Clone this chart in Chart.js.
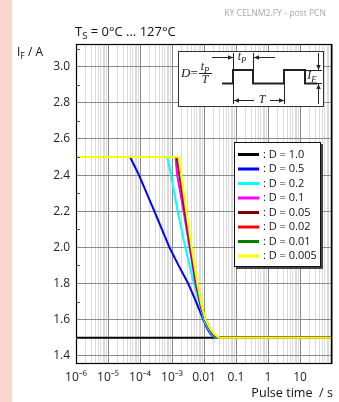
<!DOCTYPE html>
<html>
<head>
<meta charset="utf-8">
<script src="https://cdn.jsdelivr.net/npm/chart.js@4/dist/chart.umd.min.js"></script>
<style>
  html, body { margin: 0; padding: 0; background: #fff; }
  #wrap { width: 339px; height: 402px; position: relative; }
</style>
</head>
<body>
<div id="wrap"><canvas id="c"></canvas></div>
<script>
// Pulse time (s) and permissible forward current I_F (A) for each duty cycle D
const tD1000 = [1e-6, 100];
const iD1000 = [1.5, 1.5];

const tD0500 = [1e-6, 4.9e-5, 9.3e-5, 2.8e-4, 8.3e-4, 1.6e-3, 3.2e-3, 5.6e-3, 9.5e-3, 1.26e-2, 1.6e-2, 2.0e-2, 2.5e-2, 100];
const iD0500 = [2.5, 2.5, 2.4, 2.2, 2.0, 1.9, 1.8, 1.7, 1.6, 1.55, 1.52, 1.505, 1.5, 1.5];

const tD0200 = [1e-6, 7.1e-4, 9.3e-4, 1.5e-3, 2.6e-3, 4.8e-3, 7.0e-3, 1.0e-2, 1.35e-2, 1.8e-2, 2.4e-2, 100];
const iD0200 = [2.5, 2.5, 2.4, 2.2, 2.0, 1.8, 1.7, 1.6, 1.55, 1.515, 1.5, 1.5];

const tD0100 = [1e-6, 1.29e-3, 1.45e-3, 2.3e-3, 3.55e-3, 5.4e-3, 7.6e-3, 1.1e-2, 1.45e-2, 1.95e-2, 2.6e-2, 100];
const iD0100 = [2.5, 2.5, 2.4, 2.2, 2.0, 1.8, 1.7, 1.6, 1.55, 1.515, 1.5, 1.5];

const tD0050 = [1e-6, 1.41e-3, 2.5e-3, 3.75e-3, 5.7e-3, 8.0e-3, 1.08e-2, 1.48e-2, 2.0e-2, 2.7e-2, 100];
const iD0050 = [2.5, 2.5, 2.2, 2.0, 1.8, 1.67, 1.6, 1.55, 1.515, 1.5, 1.5];

const tD0020 = [1e-6, 1.48e-3, 2.6e-3, 3.85e-3, 5.9e-3, 8.2e-3, 1.1e-2, 1.5e-2, 2.02e-2, 2.75e-2, 100];
const iD0020 = [2.5, 2.5, 2.2, 2.0, 1.8, 1.67, 1.6, 1.55, 1.515, 1.5, 1.5];

const tD0010 = [1e-6, 1.55e-3, 2.7e-3, 3.95e-3, 6.05e-3, 8.4e-3, 1.11e-2, 1.52e-2, 2.05e-2, 2.8e-2, 100];
const iD0010 = [2.5, 2.5, 2.2, 2.0, 1.8, 1.67, 1.6, 1.55, 1.515, 1.5, 1.5];

const tD0005 = [1e-6, 1.62e-3, 2.8e-3, 4.1e-3, 6.2e-3, 8.6e-3, 1.12e-2, 1.55e-2, 2.1e-2, 2.9e-2, 100];
const iD0005 = [2.5, 2.5, 2.2, 2.0, 1.8, 1.67, 1.6, 1.55, 1.52, 1.5, 1.5];

const seriesLabels = [': D = 1.0', ': D = 0.5', ': D = 0.2', ': D = 0.1', ': D = 0.05', ': D = 0.02', ': D = 0.01', ': D = 0.005'];
const seriesColors = ['#000000', '#0000ff', '#00ffff', '#ff00ff', '#800000', '#ff0000', '#008000', '#ffff00'];

// Axis ticks
const xDecades = [1e-6, 1e-5, 1e-4, 1e-3, 1e-2, 1e-1, 1, 10, 100];
const xTickLabels = ['10\u207B\u2076', '10\u207B\u2075', '10\u207B\u2074', '10\u207B\u00B3', '0.01', '0.1', '1', '10', ''];
const yTickLabels = ['1.4', '1.6', '1.8', '2.0', '2.2', '2.4', '2.6', '2.8', '3.0'];

const FONT = '"Open Sans", "Noto Sans", sans-serif';

function pts(t, i) { return t.map((v, k) => ({ x: v, y: i[k] })); }
const seriesData = [
  pts(tD1000, iD1000), pts(tD0500, iD0500), pts(tD0200, iD0200), pts(tD0100, iD0100),
  pts(tD0050, iD0050), pts(tD0020, iD0020), pts(tD0010, iD0010), pts(tD0005, iD0005)
];

// all 1..9 x 10^k positions for the log grid
const xGridValues = [];
for (let k = -6; k <= 1; k++) {
  for (let m = 1; m <= 9; m++) xGridValues.push(+(m * Math.pow(10, k)).toPrecision(3));
}
xGridValues.push(100);

const yGridValues = [];
for (let k = 14; k <= 31; k++) yGridValues.push(k / 10);

function isDecade(v) {
  const l = Math.log10(v);
  return Math.abs(l - Math.round(l)) < 1e-6;
}
function isMajorY(v) { return Math.round(v * 10) % 2 === 0; }

function drawRich(ctx, parts, x, y, size, align) {
  // parts: [{t, sub}] ; draws left to right with subscripts
  let w = 0;
  parts.forEach(p => {
    ctx.font = (p.style ? p.style + ' ' : '') + (p.sub ? size * 0.72 : size) + 'px ' + (p.family || FONT);
    w += ctx.measureText(p.t).width;
  });
  let cx = align === 'center' ? x - w / 2 : (align === 'right' ? x - w : x);
  parts.forEach(p => {
    const fam = p.family || FONT;
    ctx.font = (p.style ? p.style + ' ' : '') + (p.sub ? size * 0.72 : size) + 'px ' + fam;
    ctx.fillText(p.t, cx, p.sub ? y + size * 0.3 : y);
    cx += ctx.measureText(p.t).width;
  });
}

function arrow(ctx, x1, y1, x2, y2) {
  ctx.beginPath(); ctx.moveTo(x1, y1); ctx.lineTo(x2, y2); ctx.stroke();
  const a = Math.atan2(y2 - y1, x2 - x1), L = 5, W = 2.2;
  ctx.beginPath();
  ctx.moveTo(x2, y2);
  ctx.lineTo(x2 - L * Math.cos(a) + W * Math.sin(a), y2 - L * Math.sin(a) - W * Math.cos(a));
  ctx.lineTo(x2 - L * Math.cos(a) - W * Math.sin(a), y2 - L * Math.sin(a) + W * Math.cos(a));
  ctx.closePath(); ctx.fill();
}

const decor = {
  id: 'decor',
  beforeDraw(chart) {
    const ctx = chart.ctx;
    ctx.save();
    ctx.fillStyle = '#ffffff';
    ctx.fillRect(0, 0, chart.width, chart.height);
    ctx.fillStyle = '#fdd5cf';
    ctx.fillRect(0, 0, 12, chart.height);
    ctx.restore();
  },
  afterDraw(chart) {
    const ctx = chart.ctx;
    const ca = chart.chartArea;
    const ys = chart.scales.y;
    ctx.save();

    // frame around the plot
    ctx.strokeStyle = '#000';
    ctx.lineWidth = 1.2;
    ctx.strokeRect(ca.left + 0.5, ca.top + 0.5, ca.right - ca.left - 1, ca.bottom - ca.top - 1);

    // short inner ticks at the odd tenths
    ctx.lineWidth = 1;
    ctx.strokeStyle = '#555';
    yGridValues.forEach(v => {
      if (!isMajorY(v)) {
        const py = Math.round(ys.getPixelForValue(v)) + 0.5;
        ctx.beginPath(); ctx.moveTo(ca.left, py); ctx.lineTo(ca.left + 4, py); ctx.stroke();
      }
    });

    // pulse diagram inset
    ctx.fillStyle = '#fff';
    ctx.fillRect(178.5, 51.5, 145, 55);
    ctx.strokeStyle = '#333';
    ctx.lineWidth = 1;
    ctx.strokeRect(178.5, 51.5, 145, 55);

    ctx.fillStyle = '#222';
    ctx.strokeStyle = '#222';
    ctx.textBaseline = 'middle';
    ctx.textAlign = 'left';
    const SERIF = '"Liberation Serif", "DejaVu Serif", serif';
    drawRich(ctx, [{ t: 'D', style: 'italic', family: SERIF }, { t: '=', family: SERIF }], 181, 74, 13, 'left');
    drawRich(ctx, [{ t: 't', style: 'italic', family: SERIF }, { t: 'P', sub: true, style: 'italic', family: SERIF }], 205, 67, 12, 'center');
    ctx.lineWidth = 1;
    ctx.beginPath(); ctx.moveTo(199, 73.5); ctx.lineTo(212, 73.5); ctx.stroke();
    drawRich(ctx, [{ t: 'T', style: 'italic', family: SERIF }], 205, 80, 12, 'center');

    // waveform
    ctx.lineWidth = 2;
    ctx.beginPath();
    ctx.moveTo(222, 83.5); ctx.lineTo(233, 83.5); ctx.lineTo(233, 70); ctx.lineTo(253, 70);
    ctx.lineTo(253, 83.5); ctx.lineTo(284, 83.5); ctx.lineTo(284, 70); ctx.lineTo(305, 70);
    ctx.lineTo(305, 83.5); ctx.lineTo(317, 83.5);
    ctx.stroke();

    ctx.lineWidth = 1;
    // extension lines
    ctx.beginPath();
    ctx.moveTo(233.5, 53); ctx.lineTo(233.5, 70);
    ctx.moveTo(253.5, 53); ctx.lineTo(253.5, 70);
    ctx.moveTo(233.5, 84); ctx.lineTo(233.5, 104);
    ctx.moveTo(284.5, 84); ctx.lineTo(284.5, 104);
    ctx.moveTo(305, 70.5); ctx.lineTo(322, 70.5);
    ctx.moveTo(317, 83.5); ctx.lineTo(322, 83.5);
    ctx.stroke();
    // t_P dimension
    arrow(ctx, 212, 57.5, 233, 57.5);
    arrow(ctx, 275, 57.5, 254, 57.5);
    drawRich(ctx, [{ t: 't', style: 'italic', family: SERIF }, { t: 'P', sub: true, style: 'italic', family: SERIF }], 242, 57, 12, 'center');
    // T dimension
    arrow(ctx, 254, 100.5, 234, 100.5);
    arrow(ctx, 270, 100.5, 284, 100.5);
    drawRich(ctx, [{ t: 'T', style: 'italic', family: SERIF }], 262, 100, 12, 'center');
    // I_F dimension
    arrow(ctx, 318.5, 53, 318.5, 70);
    arrow(ctx, 318.5, 104, 318.5, 84);
    drawRich(ctx, [{ t: 'I', style: 'italic', family: SERIF }, { t: 'F', sub: true, style: 'italic', family: SERIF }], 312, 76, 12, 'center');

    // legend
    const lx = 234, ly = 142, lw = 87, lh = 125;
    ctx.fillStyle = '#444';
    ctx.fillRect(lx + 2, ly + 2, lw, lh);
    ctx.fillStyle = '#fff';
    ctx.fillRect(lx, ly, lw, lh);
    ctx.strokeStyle = '#111';
    ctx.lineWidth = 1;
    ctx.strokeRect(lx + 0.5, ly + 0.5, lw - 1, lh - 1);
    ctx.font = '11px ' + FONT;
    ctx.textBaseline = 'middle';
    seriesLabels.forEach((lab, k) => {
      const yy = 154.5 + k * 14.5;
      ctx.strokeStyle = seriesColors[k];
      ctx.lineWidth = 3;
      ctx.beginPath(); ctx.moveTo(238, yy); ctx.lineTo(259, yy); ctx.stroke();
      ctx.fillStyle = '#111';
      ctx.fillText(lab, 263, yy);
    });

    // texts around the plot
    ctx.fillStyle = '#a8a8a8';
    ctx.font = '8.6px ' + FONT;
    ctx.textAlign = 'right';
    ctx.fillText('KY CELNM2.FY - post PCN', 326, 14);

    ctx.textAlign = 'left';
    ctx.fillStyle = '#111';
    drawRich(ctx, [{ t: 'T' }, { t: 'S', sub: true }, { t: ' = 0\u00B0C ... 127\u00B0C' }], 75, 32, 13, 'left');
    drawRich(ctx, [{ t: 'I' }, { t: 'F', sub: true }, { t: ' / A' }], 17, 53, 12, 'left');
    drawRich(ctx, [{ t: 'Pulse time  / s' }], 333, 393, 12.6, 'right');

    ctx.restore();
  }
};

const datasets = seriesData.map((d, k) => ({
  label: seriesLabels[k],
  data: d,
  borderColor: seriesColors[k],
  backgroundColor: seriesColors[k],
  borderWidth: 2,
  pointRadius: 0,
  tension: 0,
  fill: false,
  order: seriesData.length - 1 - k
}));

new Chart(document.getElementById('c'), {
  type: 'line',
  data: { datasets },
  options: {
    responsive: true,
    maintainAspectRatio: false,
    animation: false,
    layout: { padding: { top: 44, right: 7, left: 0, bottom: 0 } },
    plugins: { legend: { display: false }, tooltip: { enabled: false } },
    scales: {
      x: {
        type: 'logarithmic',
        min: 1e-6,
        max: 100,
        afterBuildTicks: s => { s.ticks = xGridValues.map(v => ({ value: v, major: isDecade(v) })); },
        afterFit: s => { s.height = 38; },
        border: { display: false },
        grid: {
          color: c => (c.tick && isDecade(c.tick.value)) ? '#8a8a8a' : '#dadada',
          lineWidth: 1,
          drawTicks: false
        },
        ticks: {
          autoSkip: false,
          maxRotation: 0,
          padding: 6,
          color: '#222',
          font: { family: FONT, size: 12 },
          callback: v => {
            const idx = xDecades.findIndex(d => Math.abs(Math.log10(d) - Math.log10(v)) < 1e-6);
            return idx >= 0 ? xTickLabels[idx] : '';
          }
        }
      },
      y: {
        type: 'linear',
        min: 1.354,
        max: 3.126,
        afterBuildTicks: s => { s.ticks = yGridValues.map(v => ({ value: v })); },
        afterFit: s => { s.width = 76; },
        border: { display: false },
        grid: {
          color: c => (c.tick && isMajorY(c.tick.value)) ? '#8a8a8a' : 'rgba(0,0,0,0)',
          lineWidth: 1,
          drawTicks: false
        },
        ticks: {
          autoSkip: false,
          padding: 6,
          color: '#222',
          font: { family: FONT, size: 12 },
          callback: v => {
            const idx = yTickLabels.indexOf(v.toFixed(1));
            return idx >= 0 ? yTickLabels[idx] : '';
          }
        }
      }
    }
  },
  plugins: [decor]
});
</script>
</body>
</html>
